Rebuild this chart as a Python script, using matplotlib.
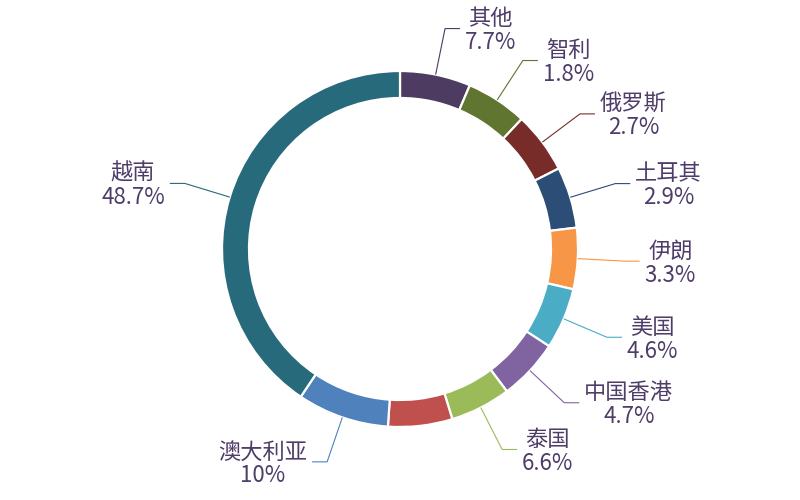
import numpy as np
import matplotlib
matplotlib.use('Agg')
from matplotlib import pyplot as plt

plt.rcParams['font.family'] = ['Noto Sans CJK SC', 'DejaVu Sans']

# slices clockwise from 12 o'clock; the red one carries no label in the source
names = ['其他', '智利', '俄罗斯', '土耳其', '伊朗', '美国', '中国香港', '泰国', '', '澳大利亚', '越南']
shares = [7.7, 1.8, 2.7, 2.9, 3.3, 4.6, 4.7, 6.6, 7.0, 10, 48.7]
labels = ['7.7%', '1.8%', '2.7%', '2.9%', '3.3%', '4.6%', '4.7%', '6.6%', '', '10%', '48.7%']
colors = ['#4d3b62', '#5f7530', '#772c2a', '#2c4d75', '#f79646', '#4bacc6',
          '#8064a2', '#9bbb59', '#c0504d', '#4f81bd', '#276a7c']
min_angle = 20  # small slices are drawn at least this wide

# spread the angles the way a min-angle pie does
vals = np.array(shares, dtype=float)
raw = vals / vals.sum() * 360
small = raw < min_angle
rest = 360 - small.sum() * min_angle
angles = np.where(small, min_angle, vals * rest / vals[~small].sum())

fig = plt.figure(figsize=(8, 5), dpi=100)
ax = fig.add_axes([0, 0, 1, 1])
R = 178.0

wedges, _ = ax.pie(angles, colors=colors, startangle=90, counterclock=False,
                   radius=1, normalize=True,
                   wedgeprops=dict(width=27 / R, edgecolor='white', linewidth=1.6))

# pie() resets the limits, so fix them afterwards: centre at (400, 249) px
ax.set_xlim(-400 / R, 400 / R)
ax.set_ylim(-(500 - 249) / R, 249 / R)
ax.axis('off')

text_color = '#4e3d69'
for w, name, lab, c in zip(wedges, names, labels, colors):
    if not name:
        continue
    mid = np.deg2rad((w.theta1 + w.theta2) / 2)
    cx, cy = np.cos(mid), np.sin(mid)
    x2, y2 = 1.264 * cx, 1.264 * cy
    side = 1 if cx >= 0 else -1
    x3 = x2 + side * 15 / R
    ax.plot([cx, x2, x3], [cy, y2, y2], color=c, lw=0.8, solid_capstyle='butt')
    ax.text(x3 + side * 5 / R, y2 - 2 / R, name + '\n' + lab,
            ha='left' if side > 0 else 'right', va='center',
            multialignment='center', fontsize=16, color=text_color,
            linespacing=1.05)

fig.savefig('out.png', dpi=100)
